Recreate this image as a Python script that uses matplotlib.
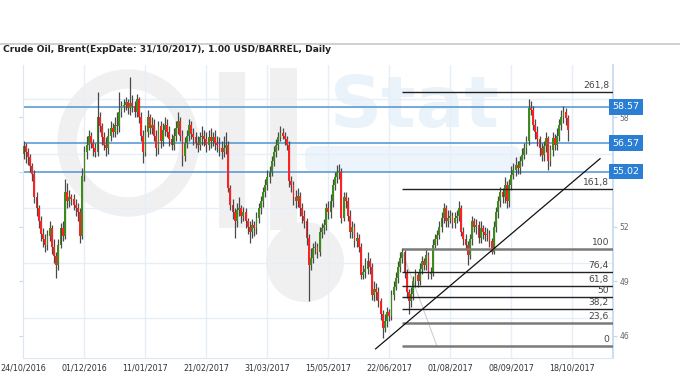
import matplotlib
matplotlib.use("Agg")
import matplotlib.pyplot as plt
from matplotlib.lines import Line2D
from matplotlib.patches import Ellipse, Rectangle, FancyBboxPatch
import matplotlib.transforms as mtransforms
import numpy as np

# ---------------- data ----------------
opens = [
 56.0, 56.4, 56.1, 55.8, 55.3, 54.9, 53.6, 53.0, 52.3, 51.6,
 51.3, 51.0, 51.5, 51.9, 50.9, 50.4, 49.9, 51.0, 51.9, 51.5,
 53.9, 53.4, 53.6, 53.5, 53.2, 53.0, 52.8, 51.5, 54.8, 56.1,
 56.5, 57.0, 56.6, 56.3, 56.1, 58.0, 57.5, 56.9, 56.5, 56.3,
 57.0, 57.4, 57.2, 57.6, 57.5, 58.3, 58.6, 58.7, 58.85, 58.5,
 58.8, 58.6, 58.3, 59.0, 58.0, 57.0, 56.1, 57.2, 58.0, 57.4,
 57.6, 57.0, 56.3, 57.5, 56.7, 57.3, 57.6, 57.2, 56.8, 56.5,
 57.0, 57.4, 57.8, 57.0, 55.9, 56.6, 57.0, 57.6, 57.1, 56.9,
 56.6, 56.5, 56.9, 57.0, 56.8, 56.5, 56.9, 56.7, 56.9, 56.6,
 56.5, 56.3, 56.1, 56.3, 56.5, 54.1, 53.2, 52.8, 52.3, 52.9,
 53.0, 52.6, 52.8, 52.3, 52.0, 51.7, 52.1, 51.9, 52.5, 53.0,
 53.4, 53.9, 54.3, 54.7, 55.0, 55.6, 56.1, 56.5, 56.9, 57.15,
 57.0, 56.8, 56.5, 54.5, 54.3, 53.6, 53.4, 53.7, 53.0, 52.6,
 52.3, 51.4, 49.9, 50.3, 50.8, 50.9, 50.6, 51.7, 51.9, 52.1,
 53.0, 52.8, 53.4, 54.3, 54.7, 55.0, 55.0, 52.5, 53.6, 53.4,
 52.6, 51.7, 52.0, 51.2, 51.4, 50.9, 49.35, 49.5, 49.7, 50.1,
 49.8, 48.25, 48.6, 48.4, 47.9, 47.2, 46.45, 46.8, 47.3, 47.1,
 48.25, 48.7, 49.2, 49.8, 50.3, 50.6, 49.5, 48.4, 47.9, 48.3,
 49.0, 49.35, 49.0, 49.7, 50.1, 49.9, 50.45, 49.4, 49.5, 51.0,
 51.3, 51.55, 52.0, 52.5, 53.0, 52.3, 52.5, 52.6, 52.2, 52.5,
 52.6, 53.0, 51.7, 51.3, 51.0, 50.45, 51.3, 52.3, 52.0, 52.1,
 51.4, 51.9, 51.7, 51.55, 51.6, 51.2, 50.6, 52.0, 52.8, 53.4,
 53.9, 53.6, 54.3, 53.4, 54.3, 54.85, 55.1, 55.4, 55.2, 55.6,
 55.95, 56.3, 56.7, 58.5, 58.4, 57.6, 57.2, 56.8, 56.3, 55.95,
 56.4, 56.85, 55.6, 56.2, 56.85, 56.5, 57.0, 57.6, 58.0, 58.3,
 57.95]
closes = [
 56.4, 56.1, 55.8, 55.3, 54.9, 53.6, 53.0, 52.3, 51.6, 51.3,
 51.0, 51.5, 51.9, 50.9, 50.4, 49.9, 51.0, 51.9, 51.5, 53.9,
 53.4, 53.6, 53.5, 53.2, 53.0, 52.8, 51.5, 54.8, 56.1, 56.5,
 57.0, 56.6, 56.3, 56.1, 58.0, 57.5, 56.9, 56.5, 56.3, 57.0,
 57.4, 57.2, 57.6, 57.5, 58.3, 58.6, 58.7, 58.85, 58.5, 58.8,
 58.6, 58.3, 59.0, 58.0, 57.0, 56.1, 57.2, 58.0, 57.4, 57.6,
 57.0, 56.3, 57.5, 56.7, 57.3, 57.6, 57.2, 56.8, 56.5, 57.0,
 57.4, 57.8, 57.0, 55.9, 56.6, 57.0, 57.6, 57.1, 56.9, 56.6,
 56.5, 56.9, 57.0, 56.8, 56.5, 56.9, 56.7, 56.9, 56.6, 56.5,
 56.3, 56.1, 56.3, 56.5, 54.1, 53.2, 52.8, 52.3, 52.9, 53.0,
 52.6, 52.8, 52.3, 52.0, 51.7, 52.1, 51.9, 52.5, 53.0, 53.4,
 53.9, 54.3, 54.7, 55.0, 55.6, 56.1, 56.5, 56.9, 57.15, 57.0,
 56.8, 56.5, 54.5, 54.3, 53.6, 53.4, 53.7, 53.0, 52.6, 52.3,
 51.4, 49.9, 50.3, 50.8, 50.9, 50.6, 51.7, 51.9, 52.1, 53.0,
 52.8, 53.4, 54.3, 54.7, 55.0, 55.0, 52.5, 53.6, 53.4, 52.6,
 51.7, 52.0, 51.2, 51.4, 50.9, 49.35, 49.5, 49.7, 50.1, 49.8,
 48.25, 48.6, 48.4, 47.9, 47.2, 46.45, 46.8, 47.3, 47.1, 48.25,
 48.7, 49.2, 49.8, 50.3, 50.6, 49.5, 48.4, 47.9, 48.3, 49.0,
 49.35, 49.0, 49.7, 50.1, 49.9, 50.45, 49.4, 49.5, 51.0, 51.3,
 51.55, 52.0, 52.5, 53.0, 52.3, 52.5, 52.6, 52.2, 52.5, 52.6,
 53.0, 51.7, 51.3, 51.0, 50.45, 51.3, 52.3, 52.0, 52.1, 51.4,
 51.9, 51.7, 51.55, 51.6, 51.2, 50.6, 52.0, 52.8, 53.4, 53.9,
 53.6, 54.3, 53.4, 54.3, 54.85, 55.1, 55.4, 55.2, 55.6, 55.95,
 56.3, 56.7, 58.5, 58.4, 57.6, 57.2, 56.8, 56.3, 55.95, 56.4,
 56.85, 55.6, 56.2, 56.85, 56.5, 57.0, 57.6, 58.0, 58.3, 57.95,
 57.3]
highs = [
 56.7, 56.6, 56.3, 56.0, 55.5, 55.1, 53.9, 53.2, 52.6, 51.9,
 51.6, 51.8, 52.3, 52.1, 51.3, 50.6, 51.3, 52.2, 52.3, 54.6,
 54.4, 54.0, 53.8, 53.8, 53.5, 53.3, 53.0, 55.2, 56.4, 57.0,
 57.3, 57.2, 56.8, 56.6, 59.4, 58.3, 57.7, 57.2, 56.9, 57.4,
 57.8, 57.7, 58.0, 58.3, 59.4, 58.9, 59.0, 59.1, 59.0, 60.2,
 59.2, 58.9, 59.3, 59.1, 58.3, 57.3, 57.6, 58.4, 58.2, 58.0,
 57.9, 57.3, 57.8, 57.8, 57.7, 58.0, 57.9, 57.5, 57.1, 57.4,
 57.8, 58.3, 58.0, 57.3, 56.9, 57.3, 57.9, 57.8, 57.4, 57.2,
 57.0, 57.2, 57.5, 57.3, 57.2, 57.3, 57.4, 57.2, 57.3, 57.0,
 56.9, 56.7, 57.0, 57.2, 56.7, 54.3, 53.5, 53.0, 53.3, 53.6,
 53.2, 53.1, 53.0, 52.5, 52.3, 52.4, 52.3, 52.8, 53.3, 53.7,
 54.2, 54.6, 55.1, 55.3, 55.9, 56.4, 56.8, 57.2, 57.5, 57.4,
 57.2, 57.0, 56.7, 54.8, 54.5, 54.0, 54.1, 53.9, 53.3, 52.9,
 52.5, 51.6, 50.8, 51.1, 51.2, 51.1, 52.0, 52.2, 52.4, 53.3,
 53.4, 53.8, 54.6, 55.0, 55.4, 55.45, 55.2, 53.9, 53.9, 53.6,
 52.9, 52.3, 52.2, 51.7, 51.6, 51.1, 49.9, 50.3, 50.6, 50.3,
 50.0, 49.0, 48.9, 48.7, 48.1, 47.4, 47.2, 47.6, 47.5, 48.5,
 49.0, 49.5, 50.1, 50.6, 50.8, 50.7, 49.7, 48.6, 48.7, 49.3,
 49.7, 49.5, 50.0, 50.4, 50.3, 50.8, 50.6, 49.8, 51.3, 51.6,
 51.8, 52.3, 52.8, 53.3, 53.2, 52.9, 52.9, 52.8, 52.8, 52.9,
 53.4, 53.2, 52.0, 51.6, 51.2, 51.6, 52.6, 52.5, 52.4, 52.3,
 52.3, 52.1, 52.0, 51.9, 51.8, 51.4, 52.3, 53.1, 53.7, 54.2,
 54.1, 54.7, 54.5, 54.6, 55.3, 55.5, 55.8, 55.6, 55.9, 56.3,
 56.6, 57.0, 59.0, 58.9, 58.6, 57.9, 57.5, 57.0, 56.6, 56.7,
 57.2, 57.0, 56.5, 57.2, 57.1, 57.4, 57.9, 58.4, 58.6, 58.5,
 58.1]
lows = [
 55.7, 55.5, 55.4, 55.0, 54.5, 53.3, 52.6, 51.9, 51.2, 50.9,
 50.6, 50.7, 51.2, 50.5, 50.0, 49.2, 49.6, 50.8, 51.2, 51.3,
 53.0, 53.1, 53.2, 52.9, 52.6, 52.3, 51.1, 51.3, 54.5, 55.7,
 56.2, 56.3, 55.9, 55.8, 55.9, 57.2, 56.5, 56.2, 55.9, 56.0,
 56.7, 56.9, 56.9, 57.1, 57.2, 58.0, 58.3, 58.4, 58.2, 58.1,
 58.3, 58.0, 58.0, 57.7, 56.7, 55.5, 55.9, 56.9, 57.1, 57.1,
 56.7, 55.9, 56.0, 56.3, 56.4, 57.0, 56.9, 56.4, 56.2, 56.2,
 56.7, 57.1, 56.7, 55.3, 55.6, 56.3, 56.7, 56.8, 56.5, 56.3,
 56.1, 56.2, 56.5, 56.4, 56.1, 56.2, 56.3, 56.4, 56.2, 56.1,
 55.9, 55.7, 55.8, 56.0, 53.9, 52.9, 52.4, 51.4, 52.0, 52.6,
 52.2, 52.3, 51.9, 51.6, 51.1, 51.4, 51.5, 51.6, 52.2, 52.7,
 53.1, 53.6, 54.0, 54.4, 54.8, 55.3, 55.8, 56.2, 56.7, 56.8,
 56.5, 56.2, 54.2, 53.9, 53.2, 53.0, 53.1, 52.6, 52.2, 51.9,
 51.0, 47.9, 49.6, 50.0, 50.5, 50.3, 50.4, 51.4, 51.6, 51.8,
 52.4, 52.5, 53.1, 54.0, 54.4, 54.6, 52.2, 52.3, 53.0, 52.3,
 51.4, 51.4, 50.9, 50.9, 50.6, 49.1, 49.1, 49.2, 49.4, 49.4,
 48.0, 47.9, 48.0, 47.6, 46.9, 45.9, 46.2, 46.5, 46.8, 46.9,
 48.0, 48.5, 48.9, 49.5, 50.0, 49.2, 48.1, 47.2, 47.6, 48.0,
 48.7, 48.7, 48.8, 49.4, 49.6, 49.6, 49.1, 49.1, 49.3, 50.8,
 51.0, 51.3, 51.7, 52.2, 52.0, 52.0, 52.2, 51.9, 51.9, 52.2,
 52.3, 51.5, 51.0, 50.7, 49.9, 50.2, 51.0, 51.7, 51.6, 51.1,
 51.1, 51.3, 51.2, 51.2, 50.9, 50.5, 50.5, 51.7, 52.5, 53.1,
 53.3, 53.3, 53.0, 53.1, 54.0, 54.6, 54.8, 54.9, 54.9, 55.3,
 55.7, 56.0, 56.5, 58.1, 57.3, 56.8, 56.4, 55.9, 55.6, 55.6,
 56.1, 55.1, 55.3, 55.9, 56.2, 56.2, 56.7, 57.3, 57.7, 57.6,
 56.7]

date_labels = ["24/10/2016", "01/12/2016", "11/01/2017", "21/02/2017",
               "31/03/2017", "15/05/2017", "22/06/2017", "01/08/2017",
               "08/09/2017", "18/10/2017"]
bars_per_label = 28

price_ticks = [46, 49, 52, 55, 58]
price_tick_labels = ["46", "49", "52", "", "58"]   # "55" is hidden under the 55.02 tag
grid_levels = [47, 50, 53, 56, 59]
level_values = [58.57, 56.57, 55.02]

fib_low = 45.45
fib_high = 50.78
fib_start_bar = 173.7
fib_ratios = [0, 23.6, 38.2, 50, 61.8, 76.4, 100, 161.8, 261.8]
fib_labels = ["0", "23,6", "38,2", "50", "61,8", "76,4", "100", "161,8", "261,8"]

trend_bars = [161.7, 264.8]
trend_prices = [45.29, 55.73]
fib_diag_bars = [174.1, 189.8]
fib_diag_prices = [50.55, 45.47]

title = "Crude Oil, Brent(ExpDate: 31/10/2017), 1.00 USD/BARREL, Daily"

# ---------------- figure ----------------
W, H = 680, 380
fig = plt.figure(figsize=(W / 100, H / 100), dpi=100)
fig.patch.set_facecolor("white")

L, R, T, B = 22.5, 612.7, 65, 358
ax = fig.add_axes([L / W, 1 - B / H, (R - L) / W, (B - T) / H])
ax.set_facecolor("none")
ax.set_zorder(2)

n = len(closes)
x = np.arange(n)
o = np.array(opens); c = np.array(closes)
h = np.array(highs); lo = np.array(lows)

XMAX = 270.6
ax.set_xlim(-0.46, XMAX)
ax.set_ylim(44.79, 60.87)

# faint watermark (figure pixel coordinates), behind the axes
px = mtransforms.Affine2D().scale(1 / W, 1 / H) + fig.transFigure
def fy(y):
    return H - y
wm = "#f0f0f0"
for p in [
    Ellipse((128, fy(143)), 122, 128, fill=False, lw=14, ec=wm),
    Rectangle((219, fy(228)), 26, 156, fc=wm, ec="none"),
    Rectangle((270, fy(230)), 27, 162, fc=wm, ec="none"),
    Ellipse((305, fy(262)), 78, 80, fc=wm, ec="none"),
    FancyBboxPatch((305, fy(172)), 215, 26,
                   boxstyle="round,pad=0,rounding_size=8", fc="#eef4fb", ec="none"),
]:
    p.set_transform(px)
    p.set_zorder(0.1)
    fig.patches.append(p)
fig.text(330 / W, 1 - 108 / H, "Stat", fontsize=52, fontweight="bold",
         color="#eaf2fa", va="center", ha="left", zorder=0.1)

# grid
for gl in grid_levels:
    ax.axhline(gl, color="#e6eef7", lw=1.0, zorder=1)
tick_pos = [k * bars_per_label for k in range(len(date_labels))]
for tp in tick_pos[1:]:
    ax.axvline(tp, color="#e6eef7", lw=1.0, zorder=1)

# candles
up = c >= o
ax.vlines(x, lo, h, color="#4a4a4a", lw=0.9, zorder=3)
body_h = np.maximum(np.abs(c - o), 0.07)
ax.bar(x[up], body_h[up], bottom=np.minimum(o, c)[up], width=0.85,
       color="#3c8c1c", edgecolor="none", zorder=4)
ax.bar(x[~up], body_h[~up], bottom=np.minimum(o, c)[~up], width=0.85,
       color="#ff2121", edgecolor="none", zorder=4)

# horizontal levels with tags
for lv in level_values:
    ax.axhline(lv, color="#5b9bd5", lw=1.2, zorder=2)
    ax.text(1.0, lv, f"{lv:.2f}", transform=ax.get_yaxis_transform(),
            ha="left", va="center", fontsize=6.8, color="white",
            bbox=dict(boxstyle="square,pad=0.36", fc="#2a7fd4", ec="none"),
            zorder=6, clip_on=False)

# fibonacci levels
rng = fib_high - fib_low
for r, lab in zip(fib_ratios, fib_labels):
    lvl = fib_low + rng * r / 100
    thick = r in (0, 23.6, 100)
    ax.plot([fib_start_bar, XMAX], [lvl, lvl],
            color="#7a7a7a" if thick else "#222222",
            lw=1.8 if thick else 1.0, zorder=5, solid_capstyle="butt")
    ax.text(268.9, lvl + 0.12, lab, ha="right", va="bottom", fontsize=6.6,
            color="#444444", zorder=6)
ax.plot(fib_diag_bars, fib_diag_prices, color="#d0d0d0", lw=0.8, zorder=2)

# trend line
ax.plot(trend_bars, trend_prices, color="#111111", lw=0.9, zorder=5)

# axes styling
ax.spines["top"].set_visible(False)
ax.spines["left"].set_color("#dbe7f3")
ax.spines["bottom"].set_color("#dbe7f3")
ax.spines["right"].set_color("#c3d8ee")
ax.spines["right"].set_linewidth(1.2)

ax.set_xticks(tick_pos)
ax.set_xticklabels(date_labels)
ax.tick_params(axis="x", length=0, pad=4, labelsize=5.8, labelcolor="#333333")

ax.yaxis.tick_right()
ax.set_yticks(price_ticks)
ax.set_yticklabels(price_tick_labels)
ax.tick_params(axis="y", which="major", left=True, right=True, length=3,
               color="#c3d8ee", labelsize=5.5, labelcolor="#666666", pad=2)

# header
fig.text(3 / W, 1 - 49.5 / H, title, fontsize=6.6, fontweight="bold",
         color="#222222", va="center", ha="left")
fig.add_artist(Line2D([0, 1], [1 - 43.5 / H] * 2, color="#c8c8c8", lw=1.2))

fig.savefig("out.png", dpi=100, facecolor="white")
